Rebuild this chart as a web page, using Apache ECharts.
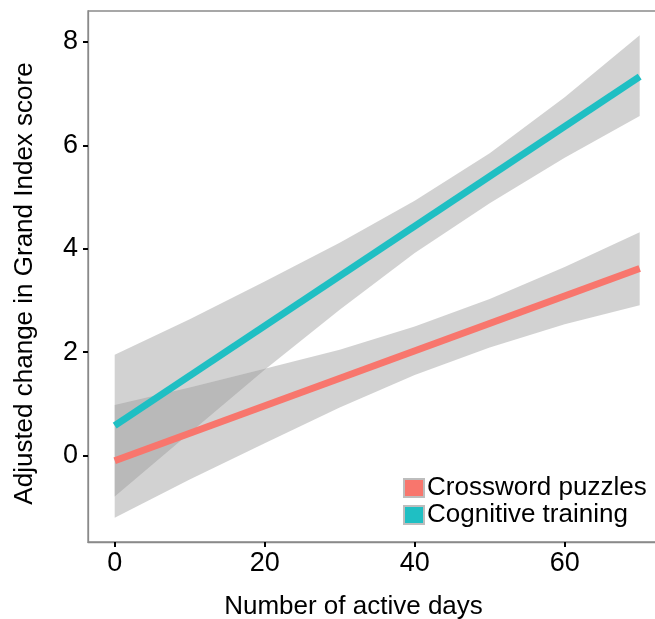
<!DOCTYPE html>
<html>
<head>
<meta charset="utf-8">
<script src="https://cdn.jsdelivr.net/npm/echarts@6/dist/echarts.min.js"></script>
<style>
html,body{margin:0;padding:0;background:#fff;}
#c{width:655px;height:619px;}
</style>
</head>
<body>
<div id="c"></div>
<script>
// ---- data ----
const xTicks = [0, 20, 40, 60];
const yTicks = [0, 2, 4, 6, 8];
const seriesNames = ['Crossword puzzles', 'Cognitive training'];

const bandX = [0, 10, 20, 30, 40, 50, 60, 70];
const crosswordUpper = [0.98, 1.32, 1.68, 2.05, 2.50, 3.03, 3.65, 4.32];
const crosswordLower = [-1.20, -0.46, 0.24, 0.93, 1.56, 2.09, 2.54, 2.91];
const cognitiveUpper = [1.95, 2.64, 3.37, 4.12, 4.93, 5.85, 6.93, 8.13];
const cognitiveLower = [-0.79, 0.44, 1.66, 2.82, 3.92, 4.88, 5.76, 6.57];

const lineX = [0, 70];
const crosswordFit = [-0.10, 3.62];
const cognitiveFit = [0.58, 7.33];

// ---- build ----
const FONT = '"Liberation Sans", Arial, sans-serif';
const BAND = 'rgba(153,153,153,0.44)';
const colors = ['#F8766D', '#1FBFC3'];

function bandSeries(id, lower, upper) {
  return {
    type: 'custom', name: id + '_band', silent: true,
    data: bandX.map((x, i) => [x, lower[i], upper[i]]),
    encode: {x: 0, y: [1, 2]},
    renderItem: function (params, api) {
      if (params.dataIndex !== 0) return;
      const pts = [];
      for (let i = 0; i < bandX.length; i++) pts.push(api.coord([bandX[i], upper[i]]));
      for (let i = bandX.length - 1; i >= 0; i--) pts.push(api.coord([bandX[i], lower[i]]));
      return {type: 'polygon', shape: {points: pts}, style: {fill: BAND}};
    }
  };
}
function fitSeries(name, vals, color) {
  return {
    type: 'line', name: name,
    data: lineX.map((x, i) => [x, vals[i]]),
    symbol: 'none', itemStyle: {color: color},
    lineStyle: {color: color, width: 7, cap: 'butt'}
  };
}

const chart = echarts.init(document.getElementById('c'));
chart.setOption({
  animation: false,
  backgroundColor: '#fff',
  textStyle: {fontFamily: FONT},
  grid: {left: 88, top: 11, right: -2, bottom: 77, show: true, containLabel: false,
         outerBoundsMode: 'none',
         borderColor: '#8a8a8a', borderWidth: 1.3, backgroundColor: '#fff'},
  xAxis: {
    type: 'value', min: -3.56, max: 72.31,
    name: 'Number of active days', nameLocation: 'middle', nameGap: 50,
    nameTextStyle: {fontSize: 26, color: '#000', fontFamily: FONT, lineHeight: 30, padding: [0, 38, 0, 0]},
    axisLine: {show: true, onZero: false, lineStyle: {color: '#8a8a8a', width: 1.3}},
    axisTick: {show: true, length: 5, lineStyle: {color: '#000', width: 2}, customValues: xTicks},
    axisLabel: {fontSize: 27, color: '#000', margin: 8, customValues: xTicks, fontFamily: FONT},
    splitLine: {show: false}
  },
  yAxis: {
    type: 'value', min: -1.67, max: 8.60,
    name: 'Adjusted change in Grand Index score', nameLocation: 'middle', nameGap: 48,
    nameTextStyle: {fontSize: 26, color: '#000', fontFamily: FONT, lineHeight: 30, padding: [0, 14, 0, 0]},
    axisLine: {show: true, onZero: false, lineStyle: {color: '#8a8a8a', width: 1.3}},
    axisTick: {show: true, length: 5, lineStyle: {color: '#000', width: 2}, customValues: yTicks},
    axisLabel: {fontSize: 27, color: '#000', margin: 10, customValues: yTicks, fontFamily: FONT},
    splitLine: {show: false}
  },
  legend: {
    data: seriesNames, orient: 'vertical', left: 403, top: 475, padding: 0,
    itemGap: 1, itemWidth: 20, itemHeight: 18, icon: 'rect',
    itemStyle: {borderColor: '#bdbdbd', borderWidth: 2},
    textStyle: {fontSize: 26, color: '#000', lineHeight: 26, fontFamily: FONT, padding: [0, 0, 0, -2]}
  },
  series: [
    bandSeries('cw', crosswordLower, crosswordUpper),
    fitSeries(seriesNames[0], crosswordFit, colors[0]),
    bandSeries('cg', cognitiveLower, cognitiveUpper),
    fitSeries(seriesNames[1], cognitiveFit, colors[1])
  ]
});
</script>
</body>
</html>
